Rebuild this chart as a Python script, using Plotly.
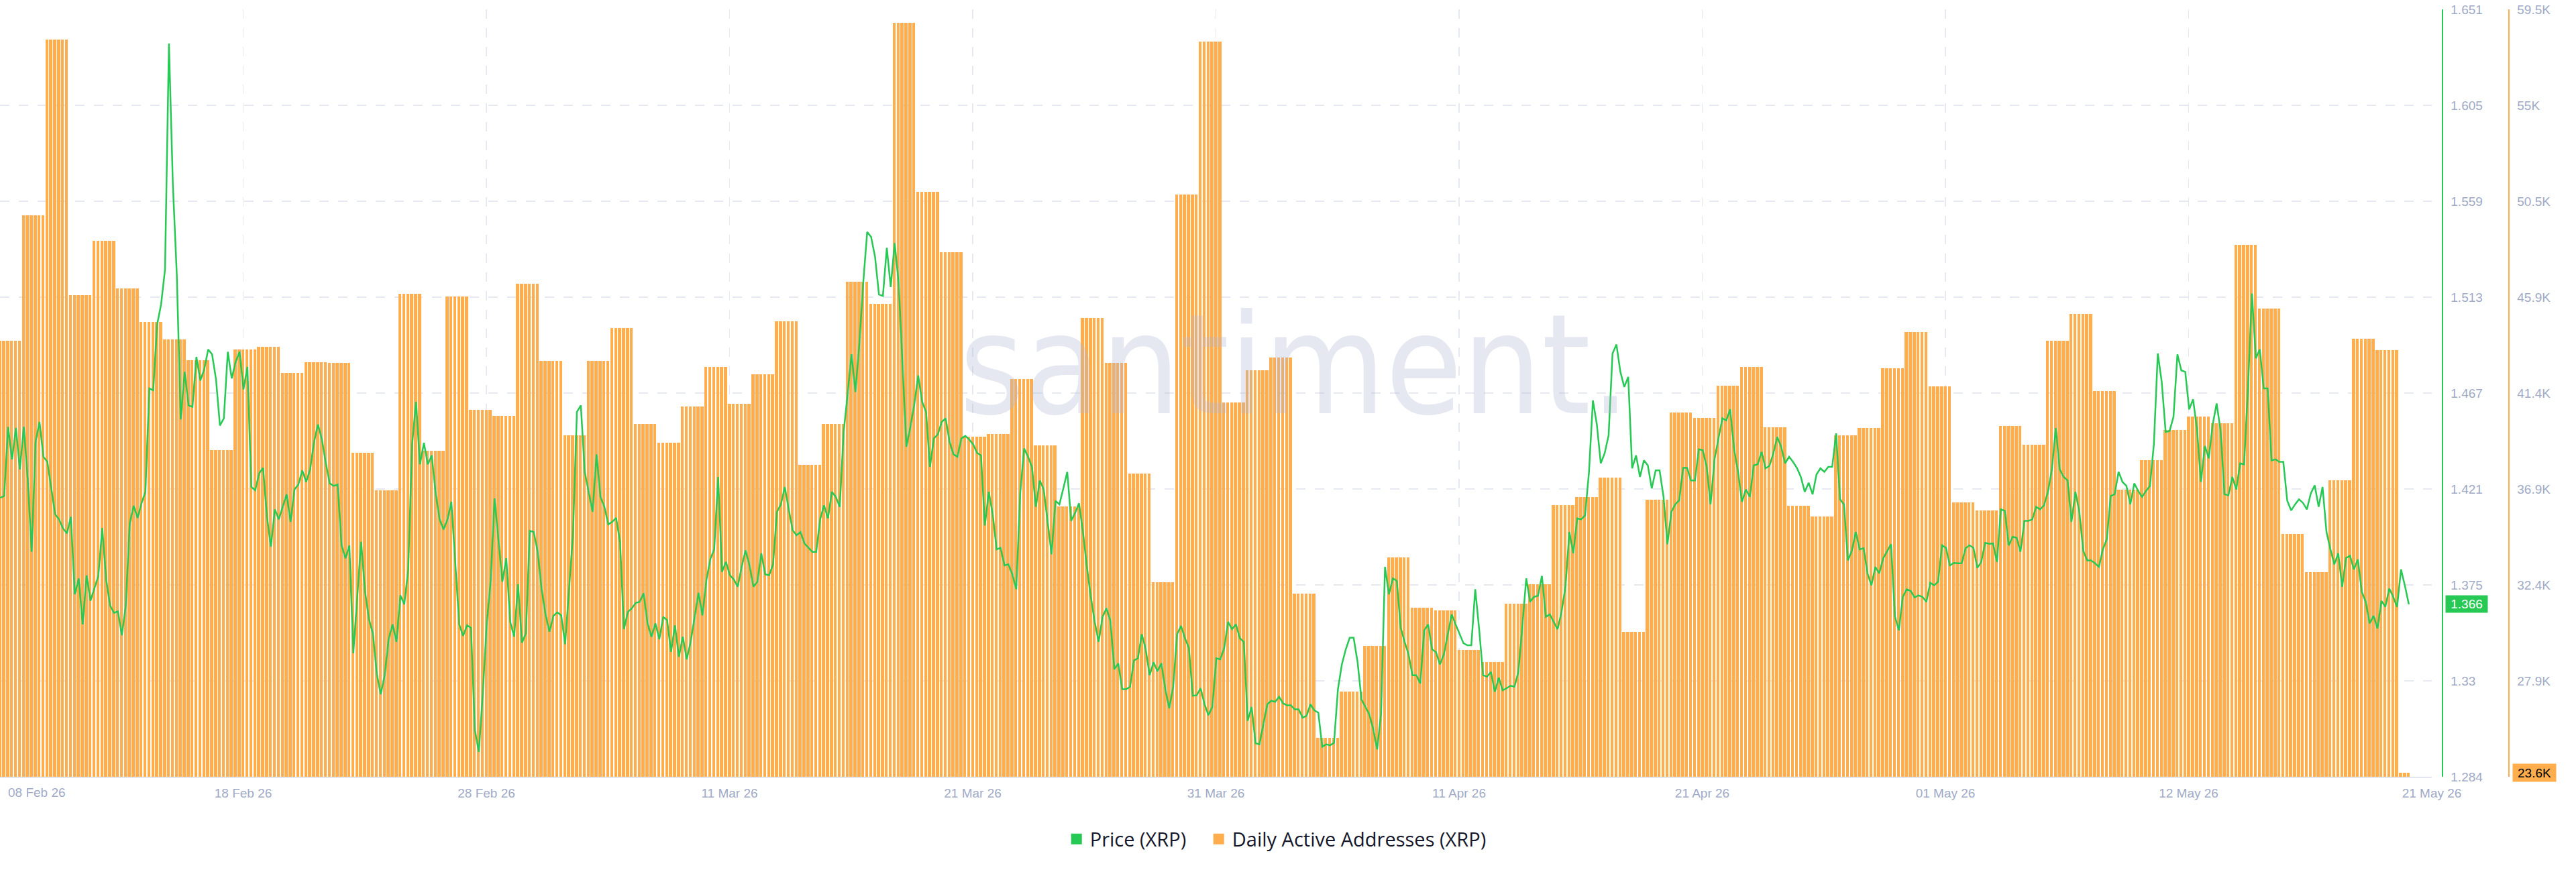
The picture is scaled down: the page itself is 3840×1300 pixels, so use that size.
import pandas as pd
import plotly.graph_objects as go

# ---------------- data ----------------
day_start = "2026-02-08"
day_end = "2026-05-21"

# Daily Active Addresses (XRP), thousands, one value per day 08 Feb .. 21 May
daa_feb = [43.88, 49.80, 58.07, 46.04, 48.60, 46.37, 44.79, 43.97, 42.99, 38.76, 43.50,
           43.62, 42.37, 42.89, 42.84, 38.62, 36.85, 46.09, 38.71, 45.99, 40.64]
daa_mar = [40.35, 46.58, 42.94, 39.44, 42.94, 44.51, 39.98, 39.09, 40.82, 42.68, 40.92,
           42.33, 44.82, 38.05, 39.98, 46.67, 45.62, 58.86, 50.90, 48.06, 39.37, 39.51,
           42.09, 38.99, 36.10, 44.98, 42.87, 37.65, 32.53, 50.78, 57.97]
daa_apr = [40.99, 42.52, 43.10, 32.02, 25.23, 27.39, 29.55, 33.71, 31.33, 31.22, 29.36,
           28.80, 31.52, 32.44, 36.17, 36.55, 37.47, 30.21, 36.41, 40.52, 40.28, 41.79,
           42.68, 39.84, 36.13, 35.63, 39.46, 39.81, 42.59, 44.30]
daa_may = [41.74, 36.29, 35.92, 39.89, 39.02, 43.90, 45.15, 41.53, 36.88, 38.29, 39.70,
           40.33, 40.03, 48.39, 45.41, 34.81, 33.03, 37.35, 43.99, 43.46, 23.60]
# the last day is still in progress: 3 of its 4-hour slots are present
slots_last_day = 3

# Price (XRP), 4-hour points starting 08 Feb 02:00
price_start = "2026-02-08 02:00"
price_a = [1.4171, 1.4180, 1.4510, 1.4355, 1.4505, 1.4307, 1.4510, 1.4259, 1.3913, 1.4439,
           1.4534, 1.4367, 1.4343, 1.4211, 1.4092, 1.4068, 1.4025, 1.4001, 1.4080, 1.3710,
           1.3786, 1.3566, 1.3800, 1.3679, 1.3741, 1.3798, 1.4027, 1.3781, 1.3657, 1.3621,
           1.3628, 1.3514, 1.3657, 1.4049, 1.4133, 1.4075, 1.4145, 1.4200, 1.4694, 1.4685,
           1.5000, 1.5096, 1.5263, 1.6343, 1.5669, 1.5239, 1.4546, 1.4773, 1.4613, 1.4606,
           1.4845, 1.4732, 1.4785, 1.4880, 1.4857, 1.4737, 1.4517, 1.4551, 1.4869, 1.4742,
           1.4821, 1.4869, 1.4689, 1.4797, 1.4223, 1.4207, 1.4288, 1.4314, 1.4080, 1.3937,
           1.4116, 1.4068, 1.4128, 1.4188, 1.4056, 1.4211, 1.4235, 1.4302, 1.4247, 1.4307,
           1.4439, 1.4522, 1.4450, 1.4336, 1.4240, 1.4228, 1.4235, 1.3944, 1.3882, 1.3944,
           1.3428, 1.3710, 1.3961, 1.3722, 1.3590, 1.3523, 1.3328, 1.3232, 1.3323, 1.3495,
           1.3566, 1.3483, 1.3705, 1.3662, 1.3829, 1.4427, 1.4630, 1.4331, 1.4434, 1.4331,
           1.4374, 1.4192, 1.4068, 1.4020, 1.4068, 1.4152, 1.3865, 1.3566, 1.3511, 1.3562,
           1.3550, 1.3060, 1.2957, 1.3232, 1.3566, 1.3770, 1.4168]
price_b = [1.3973, 1.3770, 1.3882, 1.3578, 1.3507, 1.3758, 1.3478, 1.3523, 1.4013, 1.4008,
           1.3913, 1.3734, 1.3614, 1.3531, 1.3607, 1.3624, 1.3609, 1.3471, 1.3734, 1.3996,
           1.4582, 1.4613, 1.4295, 1.4200, 1.4104, 1.4379, 1.4176, 1.4128, 1.4044, 1.4056,
           1.4075, 1.3961, 1.3543, 1.3626, 1.3643, 1.3669, 1.3674, 1.3715, 1.3571, 1.3507,
           1.3571, 1.3495, 1.3602, 1.3586, 1.3435, 1.3562, 1.3411, 1.3507, 1.3399, 1.3483,
           1.3602, 1.3717, 1.3609, 1.3777, 1.3877, 1.3925, 1.4271, 1.3817, 1.3865, 1.3801,
           1.3781, 1.3746, 1.3841, 1.3920, 1.3848, 1.3746, 1.3770, 1.3906, 1.3805, 1.3801,
           1.3853, 1.4104, 1.4140, 1.4223, 1.4116, 1.4016, 1.3992, 1.4008, 1.3953, 1.3932,
           1.3913, 1.3913, 1.4068, 1.4135, 1.4073, 1.4200, 1.4176, 1.4128, 1.4486, 1.4666,
           1.4857, 1.4677, 1.4909, 1.5203, 1.5442, 1.5418, 1.5323, 1.5143, 1.5136, 1.5366,
           1.5179, 1.5389, 1.5203, 1.4809, 1.4415, 1.4510, 1.4618, 1.4756, 1.4630, 1.4582,
           1.4319, 1.4455, 1.4474, 1.4534, 1.4551, 1.4439, 1.4379, 1.4367, 1.4455, 1.4467,
           1.4450, 1.4427, 1.4386]
price_c = [1.4374, 1.4039, 1.4200, 1.4092, 1.3925, 1.3932, 1.3848, 1.3853, 1.3805, 1.3734,
           1.4192, 1.4407, 1.4367, 1.4319, 1.4128, 1.4254, 1.4211, 1.4049, 1.3901, 1.4157,
           1.4140, 1.4216, 1.4295, 1.4061, 1.4099, 1.4145, 1.4008, 1.3841, 1.3698, 1.3578,
           1.3483, 1.3602, 1.3643, 1.3583, 1.3351, 1.3380, 1.3256, 1.3256, 1.3268, 1.3394,
           1.3404, 1.3519, 1.3447, 1.3323, 1.3385, 1.3342, 1.3380, 1.3256, 1.3165, 1.3268,
           1.3519, 1.3559, 1.3500, 1.3454, 1.3225, 1.3227, 1.3261, 1.3184, 1.3132, 1.3172,
           1.3404, 1.3399, 1.3452, 1.3578, 1.3543, 1.3566, 1.3500, 1.3483, 1.3105, 1.3172,
           1.2998, 1.2993, 1.3084, 1.3184, 1.3201, 1.3196, 1.3220, 1.3189, 1.3179, 1.3179,
           1.3160, 1.3160, 1.3120, 1.3129, 1.3184, 1.3155, 1.3144, 1.2981, 1.2993, 1.2988,
           1.3000, 1.3256, 1.3375, 1.3447, 1.3502, 1.3502, 1.3387, 1.3208, 1.3172, 1.3136,
           1.3065, 1.2969, 1.3141, 1.3841, 1.3710, 1.3786, 1.3774, 1.3550, 1.3483, 1.3423,
           1.3323, 1.3323, 1.3284, 1.3538, 1.3566, 1.3447, 1.3433, 1.3375, 1.3423, 1.3519,
           1.3614, 1.3566, 1.3523]
price_d = [1.3476, 1.3466, 1.3466, 1.3734, 1.3543, 1.3323, 1.3316, 1.3339, 1.3244, 1.3311,
           1.3251, 1.3261, 1.3273, 1.3268, 1.3339, 1.3554, 1.3786, 1.3674, 1.3698, 1.3703,
           1.3798, 1.3602, 1.3614, 1.3578, 1.3543, 1.3626, 1.3746, 1.4008, 1.3906, 1.4073,
           1.4068, 1.4087, 1.4295, 1.4637, 1.4522, 1.4336, 1.4384, 1.4470, 1.4861, 1.4904,
           1.4773, 1.4701, 1.4749, 1.4312, 1.4374, 1.4271, 1.4350, 1.4326, 1.4216, 1.4302,
           1.4302, 1.4176, 1.3949, 1.4104, 1.4140, 1.4159, 1.4314, 1.4314, 1.4254, 1.4254,
           1.4403, 1.4398, 1.4319, 1.4140, 1.4355, 1.4455, 1.4551, 1.4541, 1.4594, 1.4403,
           1.4295, 1.4152, 1.4211, 1.4176, 1.4326, 1.4331, 1.4391, 1.4312, 1.4324, 1.4384,
           1.4462, 1.4415, 1.4336, 1.4367, 1.4343, 1.4314, 1.4271, 1.4200, 1.4243, 1.4188,
           1.4283, 1.4312, 1.4295, 1.4319, 1.4319, 1.4479, 1.4164, 1.4140, 1.3872, 1.3918,
           1.4008, 1.3925, 1.3930, 1.3810, 1.3753, 1.3841, 1.3810, 1.3882, 1.3918, 1.3949,
           1.3602, 1.3538, 1.3698, 1.3734, 1.3726, 1.3695, 1.3705, 1.3698, 1.3674, 1.3765,
           1.3753, 1.3770, 1.3944, 1.3932]
price_e = [1.3848, 1.3860, 1.3858, 1.3858, 1.3930, 1.3944, 1.3932, 1.3836, 1.3865, 1.3956,
           1.3951, 1.3953, 1.3865, 1.4116, 1.4109, 1.3944, 1.3985, 1.3980, 1.3913, 1.4061,
           1.4061, 1.4068, 1.4128, 1.4116, 1.4135, 1.4200, 1.4307, 1.4505, 1.4307, 1.4271,
           1.4254, 1.4056, 1.4200, 1.4104, 1.3918, 1.3872, 1.3872, 1.3858, 1.3841, 1.3925,
           1.3973, 1.4180, 1.4188, 1.4295, 1.4247, 1.4228, 1.4140, 1.4240, 1.4204, 1.4176,
           1.4204, 1.4228, 1.4427, 1.4861, 1.4725, 1.4486, 1.4491, 1.4558, 1.4857, 1.4780,
           1.4773, 1.4594, 1.4642, 1.4498, 1.4247, 1.4419, 1.4360, 1.4522, 1.4622, 1.4493,
           1.4188, 1.4183, 1.4271, 1.4211, 1.4336, 1.4331, 1.4701, 1.5148, 1.4838, 1.4881,
           1.4694, 1.4694, 1.4350, 1.4355, 1.4343, 1.4343, 1.4157, 1.4111, 1.4140, 1.4164,
           1.4147, 1.4116, 1.4192, 1.4231, 1.4128, 1.4223, 1.4008, 1.3925, 1.3853, 1.3906,
           1.3746, 1.3884, 1.3894, 1.3829, 1.3877, 1.3722, 1.3674, 1.3571, 1.3607, 1.3547,
           1.3679, 1.3650, 1.3738, 1.3698, 1.3650, 1.3829, 1.3750, 1.3662]

x_labels = ["08 Feb 26", "18 Feb 26", "28 Feb 26", "11 Mar 26", "21 Mar 26", "31 Mar 26",
            "11 Apr 26", "21 Apr 26", "01 May 26", "12 May 26", "21 May 26"]

price_name = "Price (XRP)"
daa_name = "Daily Active Addresses (XRP)"

# ---------------- styling / layout constants ----------------
W, H = 3840, 1300
GREEN = "#26C953"
ORANGE = "#FFAD4D"
TICK_COLOR = "#9FAAC6"
GRID = "#E6E9F2"
FONT = "Liberation Sans, Arial, sans-serif"

view_start = pd.Timestamp(day_start) + pd.Timedelta(hours=1.73)
view_end = view_start + pd.Timedelta(days=103.318)
price_range = [1.28378, 1.65058]
daa_range = [23395, 59475]

# ---------------- build series ----------------
daa_k = daa_feb + daa_mar + daa_apr + daa_may
days = pd.date_range(day_start, day_end, freq="D")
bar_x, bar_y = [], []
for i, (d, v) in enumerate(zip(days, daa_k)):
    n = slots_last_day if i == len(days) - 1 else 6
    for s in range(n):
        bar_x.append(d + pd.Timedelta(hours=4 * s))
        bar_y.append(v * 1000)

price = price_a + price_b + price_c + price_d + price_e
price_x = pd.date_range(price_start, periods=len(price), freq="4h")

# ---------------- ticks ----------------
span = view_end - view_start
x_tickvals = [view_start + span * i / 10 for i in range(11)]
x_ticktext = [""] + x_labels[1:]

def fmt_price(v):
    return f"{v:.3f}".rstrip("0").rstrip(".")

def fmt_k(v):
    return f"{v / 1000:.1f}".rstrip("0").rstrip(".") + "K"

p_ticks = [price_range[0] + i * (price_range[1] - price_range[0]) / 8 for i in range(9)]
d_ticks = [daa_range[0] + i * (daa_range[1] - daa_range[0]) / 8 for i in range(9)]

fig = go.Figure()
four_h_ms = 4 * 3600 * 1000
fig.add_trace(go.Bar(
    x=bar_x, y=bar_y, width=four_h_ms * 0.76, offset=0,
    marker=dict(color=ORANGE, line=dict(width=0)),
    yaxis="y", showlegend=False, hoverinfo="skip", name=daa_name,
))
fig.add_trace(go.Scatter(
    x=price_x, y=price, mode="lines", line=dict(color=GREEN, width=2.5),
    yaxis="y2", showlegend=False, hoverinfo="skip", name=price_name,
))
# legend entries (square swatches)
fig.add_trace(go.Scatter(x=[None], y=[None], mode="markers", name=price_name,
                         marker=dict(symbol="square", size=18, color=GREEN), yaxis="y2",
                         legendwidth=167))
fig.add_trace(go.Scatter(x=[None], y=[None], mode="markers", name=daa_name,
                         marker=dict(symbol="square", size=18, color=ORANGE), yaxis="y"))

tickfont = dict(family=FONT, size=19, color=TICK_COLOR)
fig.update_layout(
    width=W, height=H,
    margin=dict(l=0, r=0, t=14, b=142, pad=0, autoexpand=False),
    paper_bgcolor="white", plot_bgcolor="white",
    bargap=0,
    legend=dict(orientation="h", x=0.4955, xanchor="center", y=-0.0813, yanchor="middle",
                font=dict(family="Open Sans, Lato, sans-serif", size=29, color="#15182B"),
                itemclick=False, itemdoubleclick=False, tracegroupgap=0),
    xaxis=dict(type="date", range=[view_start, view_end], domain=[0, 3625 / W],
               tickmode="array", tickvals=x_tickvals, ticktext=x_ticktext,
               showgrid=True, gridcolor=GRID, gridwidth=1.5, griddash="14px,14px",
               showline=True, linecolor="#E3E6EF", linewidth=2,
               ticks="outside", ticklen=6, tickcolor="rgba(0,0,0,0)",
               tickfont=tickfont, zeroline=False, fixedrange=True),
    yaxis=dict(range=daa_range, side="right", anchor="free", position=3739 / W,
               tickmode="array", tickvals=d_ticks, ticktext=[fmt_k(v) for v in d_ticks],
               showgrid=True, gridcolor=GRID, gridwidth=1.5, griddash="14px,14px",
               showline=True, linecolor=ORANGE, linewidth=1.5,
               ticks="outside", ticklen=8, tickcolor="rgba(0,0,0,0)",
               tickfont=tickfont, zeroline=False, automargin=False),
    yaxis2=dict(range=price_range, side="right", anchor="free", position=3640 / W,
                overlaying="y",
                tickmode="array", tickvals=p_ticks, ticktext=[fmt_price(v) for v in p_ticks],
                showgrid=False, showline=True, linecolor=GREEN, linewidth=1.5,
                ticks="outside", ticklen=8, tickcolor="rgba(0,0,0,0)",
                tickfont=tickfont, zeroline=False, automargin=False),
)

annotations = [
    # watermark
    dict(text="santiment.", xref="paper", yref="paper", x=1930 / W, y=0.536,
         xanchor="center", yanchor="middle", showarrow=False,
         font=dict(family="Liberation Sans Narrow, DejaVu Sans Condensed, sans-serif",
                   size=207, color="rgba(175,182,212,0.32)")),
    # first x label (kept inside the chart)
    dict(text=x_labels[0], xref="paper", yref="paper", x=0, y=0, xanchor="left",
         yanchor="top", xshift=10, yshift=-11, showarrow=False, font=tickfont),
    # last value badges
    dict(text=fmt_price(price[-1]), xref="paper", yref="y2", x=3645 / W, y=price[-1],
         xanchor="left", yanchor="middle", showarrow=False, bgcolor=GREEN,
         font=dict(family=FONT, size=19, color="white"), borderpad=3, width=56, height=19),
    dict(text=fmt_k(daa_k[-1] * 1000), xref="paper", yref="y", x=3745 / W, y=daa_k[-1] * 1000,
         xanchor="left", yanchor="middle", showarrow=False, bgcolor=ORANGE,
         font=dict(family=FONT, size=19, color="black"), borderpad=3, width=58, height=20),
]
fig.update_layout(annotations=annotations)

fig.write_html("out.html", include_plotlyjs=True, full_html=True,
               config={"displayModeBar": False, "staticPlot": True})
